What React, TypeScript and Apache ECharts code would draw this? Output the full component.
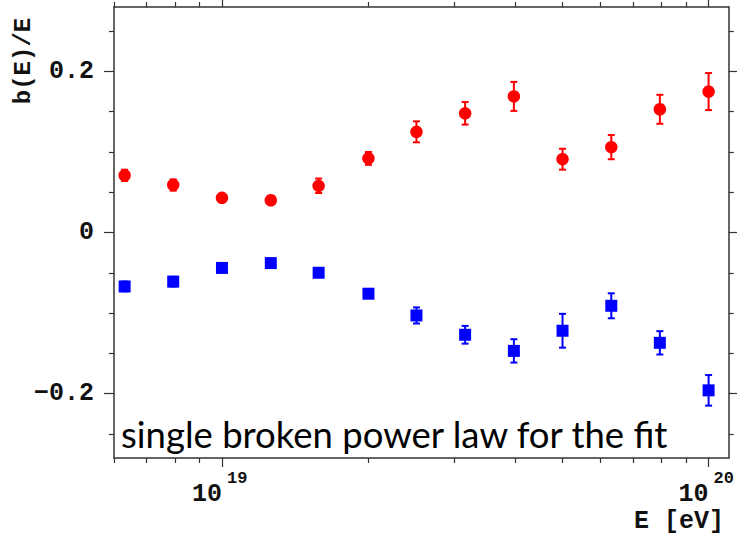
import React, { useEffect, useRef } from "react";
import * as echarts from "echarts";

// Energy bins (eV), lg E = 18.8 ... 20.0
const energies = [6.31e18, 7.94e18, 1.0e19, 1.26e19, 1.58e19, 2.0e19, 2.51e19, 3.16e19, 3.98e19, 5.01e19, 6.31e19, 7.94e19, 1.0e20];
// Red circles: b(E)/E and errors
const redValues = [0.071, 0.059, 0.043, 0.04, 0.058, 0.092, 0.125, 0.148, 0.169, 0.091, 0.106, 0.153, 0.175];
const redErrors = [0.007, 0.007, 0.005, 0.005, 0.009, 0.008, 0.013, 0.014, 0.018, 0.013, 0.015, 0.018, 0.023];
// Blue squares
const blueValues = [-0.067, -0.061, -0.044, -0.038, -0.05, -0.076, -0.103, -0.127, -0.147, -0.122, -0.091, -0.137, -0.196];
const blueErrors = [0.006, 0.006, 0.004, 0.003, 0.005, 0.003, 0.01, 0.011, 0.0145, 0.021, 0.0155, 0.0145, 0.019];

// Axis ticks and labels
const xMajorTicks = [1e19, 1e20];
const xMinorTicks = [6e18, 7e18, 8e18, 9e18, 2e19, 3e19, 4e19, 5e19, 6e19, 7e19, 8e19, 9e19];
const xTickBase = ["10", "10"];
const xTickExponents = ["19", "20"];
const yMajorTicks = [-0.2, 0, 0.2];
const yMinorTicks = [-0.25, -0.15, -0.1, -0.05, 0.05, 0.1, 0.15, 0.25];
const yTickLabels = ["\u22120.2", "0", "0.2"];

const X_MIN = 6e18;
const X_MAX = 1.1e20;
const Y_MIN = -0.28;
const Y_MAX = 0.28;

const MONO = '"Liberation Mono", "DejaVu Sans Mono", monospace';
const FRAME = "#333";

function nearestIndex(arr: number[], v: number, log: boolean) {
  let best = 0;
  let bd = Infinity;
  arr.forEach((a, i) => {
    const d = log ? Math.abs(Math.log10(a) - Math.log10(v)) : Math.abs(a - v);
    if (d < bd) {
      bd = d;
      best = i;
    }
  });
  return best;
}

function xAxis(position: string, ticks: number[], len: number, line: boolean, label: any) {
  return {
    type: "log",
    logBase: 10,
    min: X_MIN,
    max: X_MAX,
    position,
    axisLine: { show: line, onZero: false, lineStyle: { color: FRAME, width: 1.5 } },
    axisTick: { show: true, inside: false, length: len, customValues: ticks, lineStyle: { color: FRAME, width: 1.2 } },
    axisLabel: label,
    splitLine: { show: false },
    minorTick: { show: false },
  };
}

function yAxis(position: string, ticks: number[], len: number, line: boolean, label: any) {
  return {
    type: "value",
    min: Y_MIN,
    max: Y_MAX,
    position,
    axisLine: { show: line, onZero: false, lineStyle: { color: FRAME, width: 1.5 } },
    axisTick: { show: true, inside: false, length: len, customValues: ticks, lineStyle: { color: FRAME, width: 1.2 } },
    axisLabel: label,
    splitLine: { show: false },
  };
}

function errorBars(values: number[], errors: number[], color: string) {
  return {
    type: "custom",
    coordinateSystem: "cartesian2d",
    xAxisIndex: 0,
    yAxisIndex: 0,
    z: 2,
    data: energies.map((e, i) => [e, values[i], errors[i]]),
    renderItem: (params: any, api: any) => {
      const x = api.value(0);
      const y = api.value(1);
      const err = api.value(2);
      const top = api.coord([x, y + err]);
      const bot = api.coord([x, y - err]);
      const hw = 3.5;
      const style = { stroke: color, lineWidth: 2 };
      return {
        type: "group",
        children: [
          { type: "line", shape: { x1: top[0], y1: top[1], x2: bot[0], y2: bot[1] }, style },
          { type: "line", shape: { x1: top[0] - hw, y1: top[1], x2: top[0] + hw, y2: top[1] }, style },
          { type: "line", shape: { x1: bot[0] - hw, y1: bot[1], x2: bot[0] + hw, y2: bot[1] }, style },
        ],
      };
    },
  };
}

export default function App() {
  const ref = useRef<HTMLDivElement>(null);

  useEffect(() => {
    if (!ref.current) return;
    const chart = echarts.init(ref.current, undefined, { renderer: "svg" });
    const noLabel = { show: false };
    const option: any = {
      animation: false,
      backgroundColor: "#ffffff",
      grid: { left: 114, right: 4, top: 7, bottom: 77, show: false },
      xAxis: [
        xAxis("bottom", xMajorTicks, 9, true, {
          show: true,
          customValues: xMajorTicks,
          formatter: (v: number) => xTickBase[nearestIndex(xMajorTicks, v, true)],
          align: "right",
          margin: 24,
          fontFamily: MONO,
          fontWeight: "bold",
          fontSize: 25,
          color: "#111",
        }),
        xAxis("bottom", xMinorTicks, 5, false, {
          show: true,
          customValues: xMajorTicks,
          formatter: (v: number) => xTickExponents[nearestIndex(xMajorTicks, v, true)],
          align: "left",
          padding: [0, 0, 0, 5],
          margin: 12,
          fontFamily: MONO,
          fontWeight: "bold",
          fontSize: 17,
          color: "#111",
        }),
        xAxis("top", xMajorTicks, 9, true, noLabel),
        xAxis("top", xMinorTicks, 5, false, noLabel),
      ],
      yAxis: [
        yAxis("left", yMajorTicks, 10, true, {
          show: true,
          customValues: yMajorTicks,
          formatter: (v: number) => yTickLabels[nearestIndex(yMajorTicks, v, false)],
          margin: 20,
          fontFamily: MONO,
          fontWeight: "bold",
          fontSize: 25,
          color: "#111",
        }),
        yAxis("left", yMinorTicks, 5, false, noLabel),
        yAxis("right", yMajorTicks, 10, true, noLabel),
        yAxis("right", yMinorTicks, 5, false, noLabel),
      ],
      series: [
        errorBars(redValues, redErrors, "#ff0000"),
        errorBars(blueValues, blueErrors, "#0000ff"),
        {
          type: "scatter",
          name: "red",
          xAxisIndex: 0,
          yAxisIndex: 0,
          z: 3,
          symbol: "circle",
          symbolSize: 12.5,
          itemStyle: { color: "#ff0000", opacity: 1 },
          data: energies.map((e, i) => [e, redValues[i]]),
        },
        {
          type: "scatter",
          name: "blue",
          xAxisIndex: 0,
          yAxisIndex: 0,
          z: 3,
          symbol: "rect",
          symbolSize: 12,
          itemStyle: { color: "#0000ff", opacity: 1 },
          data: energies.map((e, i) => [e, blueValues[i]]),
        },
      ],
      graphic: [
        {
          type: "text",
          x: 23,
          y: 61,
          rotation: Math.PI / 2,
          style: {
            text: "b(E)/E",
            font: `bold 24px ${MONO}`,
            fill: "#111",
            align: "center",
            verticalAlign: "middle",
          },
        },
        {
          type: "text",
          x: 724,
          y: 521,
          style: {
            text: "E [eV]",
            font: `bold 25px ${MONO}`,
            fill: "#111",
            align: "right",
            verticalAlign: "middle",
          },
        },
        {
          type: "text",
          x: 121,
          y: 434,
          style: {
            text: "single broken power law for the fit",
            font: '36.5px Lato, "Open Sans", sans-serif',
            fill: "#000",
            align: "left",
            verticalAlign: "middle",
          },
        },
      ],
    };
    chart.setOption(option);
    return () => chart.dispose();
  }, []);

  return (
    <div
      ref={ref}
      style={{ position: "fixed", left: 0, top: 0, width: 737, height: 535, background: "#fff" }}
    />
  );
}
